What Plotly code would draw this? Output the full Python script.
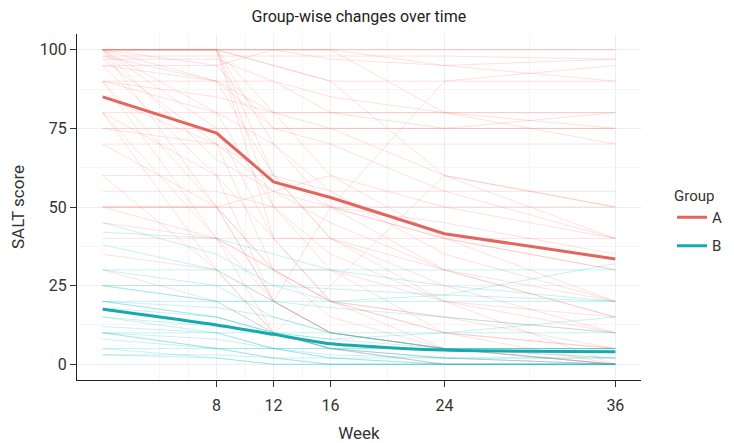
import plotly.graph_objects as go

weeks = [0, 8, 12, 16, 24, 36]
tick_weeks = [8, 12, 16, 24, 36]
tick_labels = ["8", "12", "16", "24", "36"]

# individual SALT trajectories, group A (values at weeks 0, 8, 12, 16, 24, 36)
group_a = [
    [100, 100, 100, 100, 100, 100],
    [100, 100, 100, 100, 100, 100],
    [100, 100, 100, 97, 95, 97],
    [100, 100, 95, 90, 90, 90],
    [100, 100, 80, 60, 40, 20],
    [100, 100, 50, 30, 10, 5],
    [100, 95, 75, 70, 55, 40],
    [100, 90, 60, 40, 20, 0],
    [100, 80, 50, 35, 20, 10],
    [100, 100, 100, 100, 80, 70],
    [100, 75, 40, 20, 5, 0],
    [98, 98, 98, 98, 98, 97],
    [98, 90, 80, 75, 60, 50],
    [97, 70, 30, 15, 5, 0],
    [97, 97, 90, 80, 75, 80],
    [95, 90, 90, 85, 80, 75],
    [95, 60, 20, 10, 5, 2],
    [95, 95, 100, 100, 95, 90],
    [90, 90, 75, 75, 75, 75],
    [90, 80, 70, 55, 35, 20],
    [90, 50, 20, 10, 5, 0],
    [90, 85, 80, 80, 80, 80],
    [85, 70, 60, 50, 40, 30],
    [80, 80, 80, 80, 80, 80],
    [80, 60, 40, 40, 30, 15],
    [80, 40, 10, 5, 0, 0],
    [75, 75, 75, 75, 75, 75],
    [75, 70, 55, 50, 45, 35],
    [70, 70, 70, 70, 70, 70],
    [70, 50, 30, 20, 10, 5],
    [60, 60, 60, 55, 55, 55],
    [60, 30, 10, 5, 2, 0],
    [55, 55, 50, 50, 40, 30],
    [50, 50, 50, 50, 50, 50],
    [50, 50, 20, 10, 5, 0],
    [50, 40, 30, 30, 20, 15],
    [50, 50, 55, 60, 50, 40],
    [45, 40, 30, 20, 15, 10],
    [40, 40, 40, 40, 40, 40],
    [100, 100, 70, 50, 30, 15],
    [100, 100, 95, 90, 60, 50],
    [100, 65, 55, 45, 30, 20],
    [30, 20, 10, 5, 0, 0],
    [35, 30, 20, 10, 5, 5],
    [100, 100, 60, 40, 25, 10],
    [90, 40, 20, 50, 90, 95],
    [80, 30, 10, 25, 60, 40],
    [100, 50, 30, 20, 10, 0],
    [100, 100, 40, 20, 15, 5],
]

# individual SALT trajectories, group B
group_b = [
    [42, 40, 35, 30, 25, 20],
    [38, 30, 20, 10, 5, 2],
    [30, 30, 30, 30, 30, 30],
    [30, 25, 15, 10, 5, 0],
    [25, 25, 25, 24, 22, 20],
    [25, 20, 10, 5, 2, 0],
    [20, 20, 20, 20, 20, 20],
    [20, 15, 10, 5, 0, 0],
    [20, 18, 15, 10, 5, 5],
    [18, 15, 10, 5, 2, 0],
    [15, 10, 5, 2, 0, 0],
    [15, 12, 10, 8, 5, 5],
    [12, 10, 5, 2, 0, 0],
    [10, 10, 10, 10, 10, 10],
    [10, 5, 2, 0, 0, 0],
    [10, 8, 5, 5, 5, 5],
    [8, 5, 2, 0, 0, 0],
    [5, 5, 5, 5, 5, 5],
    [5, 2, 0, 0, 0, 0],
    [3, 3, 2, 2, 2, 2],
    [3, 2, 0, 0, 0, 0],
    [45, 35, 25, 20, 22, 32],
    [20, 15, 10, 8, 10, 15],
    [25, 20, 20, 18, 15, 10],
    [10, 5, 5, 3, 2, 2],
]

mean_a = [85, 73.5, 58, 53, 41.5, 33.5]
mean_b = [17.5, 12.5, 9.5, 6.5, 4.5, 4]

fig = go.Figure()
for vals in group_a:
    fig.add_trace(go.Scatter(x=weeks, y=vals, mode="lines", legendgroup="A",
                             line=dict(color="rgba(248,118,109,0.22)", width=1),
                             showlegend=False, hoverinfo="skip"))
for vals in group_b:
    fig.add_trace(go.Scatter(x=weeks, y=vals, mode="lines", legendgroup="B",
                             line=dict(color="rgba(0,191,196,0.22)", width=1),
                             showlegend=False, hoverinfo="skip"))

fig.add_trace(go.Scatter(x=weeks, y=mean_a, mode="lines", name="A", legendgroup="A",
                         line=dict(color="#E2655E", width=3)))
fig.add_trace(go.Scatter(x=weeks, y=mean_b, mode="lines", name="B", legendgroup="B",
                         line=dict(color="#17A9AC", width=3, shape="spline", smoothing=0.6)))

grid_major = "#EEEEEE"
grid_minor = "#F5F5F5"
txt = "#333333"

# page body adds an 8px offset; margins compensate for it
fig.update_layout(
    width=734, height=443,
    margin=dict(l=69, r=101, t=26, b=71),
    paper_bgcolor="white", plot_bgcolor="white",
    font=dict(family="Roboto, sans-serif", size=15, color=txt),
    title=dict(text="Group-wise changes over time", x=0.478, xanchor="center",
               y=0.981, yanchor="middle", font=dict(size=16, color="#222222")),
    legend=dict(title=dict(text="Group", font=dict(size=15)),
                font=dict(size=15),
                x=1.055, xanchor="left", y=0.457, yanchor="middle",
                tracegroupgap=6, itemwidth=30),
    showlegend=True,
)

fig.update_xaxes(
    range=[-1.8, 37.8], tickmode="array", tickvals=tick_weeks, ticktext=tick_labels,
    showline=True, linecolor="#222222", linewidth=1,
    ticks="outside", ticklen=6, tickcolor="#333333", ticklabelstandoff=5,
    showgrid=True, gridcolor=grid_major, gridwidth=1, zeroline=False,
    minor=dict(tickmode="array", tickvals=[4, 6, 10, 14, 20, 30], showgrid=True,
               gridcolor=grid_minor, gridwidth=1, ticks=""),
    title=dict(text="Week", standoff=12, font=dict(size=17, color=txt)),
    tickfont=dict(size=16, color=txt),
    automargin=False,
)
fig.update_yaxes(
    range=[-5, 105], tickmode="array", tickvals=[0, 25, 50, 75, 100],
    showline=True, linecolor="#222222", linewidth=1,
    ticks="outside", ticklen=6, tickcolor="#333333",
    showgrid=True, gridcolor=grid_major, gridwidth=1, zeroline=False,
    minor=dict(tickmode="array", tickvals=[12.5, 37.5, 62.5, 87.5], showgrid=True,
               gridcolor=grid_minor, gridwidth=1, ticks=""),
    title=dict(text="SALT score", standoff=26, font=dict(size=17, color=txt)),
    tickfont=dict(size=16, color=txt),
    automargin=False,
)

fig.write_html("out.html")
